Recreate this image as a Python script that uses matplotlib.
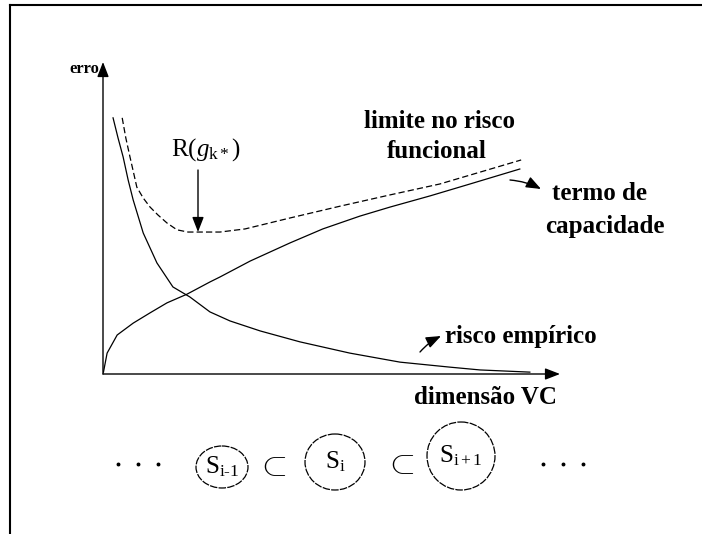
import matplotlib.pyplot as plt
from matplotlib.patches import Ellipse

# curves (x: dimensao VC, y: erro), arbitrary units 0..10
emp_x = [0.22, 0.33, 0.44, 0.55, 0.66, 0.88, 1.18, 1.53, 1.90, 2.34, 2.78, 3.44, 4.31, 5.40, 6.50, 7.59, 8.25, 9.34]
emp_y = [8.21, 7.56, 6.96, 6.22, 5.58, 4.52, 3.56, 2.79, 2.47, 1.99, 1.70, 1.38, 1.03, 0.67, 0.38, 0.22, 0.13, 0.06]

cap_x = [0.01, 0.09, 0.31, 0.66, 1.03, 1.40, 1.84, 2.34, 2.56, 3.22, 4.09, 4.81, 5.62, 6.28, 7.16, 8.03, 9.12]
cap_y = [0.06, 0.67, 1.25, 1.63, 1.96, 2.28, 2.56, 2.95, 3.11, 3.62, 4.20, 4.65, 5.06, 5.35, 5.71, 6.09, 6.57]

bound_x = [0.42, 0.50, 0.59, 0.68, 0.74, 0.88, 1.03, 1.20, 1.40, 1.62, 1.86, 2.12, 2.56, 3.11,
           4.09, 5.19, 6.28, 7.37, 8.25, 9.15]
bound_y = [8.21, 7.56, 6.96, 6.38, 5.99, 5.64, 5.35, 5.10, 4.84, 4.62, 4.55, 4.55, 4.55, 4.65,
           5.00, 5.38, 5.74, 6.09, 6.47, 6.86]

# nested structure S_{i-1} ⊂ S_i ⊂ S_{i+1}
set_labels = [r'$\mathrm{S_{i\text{-}1}}$', r'$\mathrm{S_i}$', r'$\mathrm{S_{i+1}}$']

W, H = 702, 534
fig = plt.figure(figsize=(W / 100, H / 100), dpi=100)
serif = 'Liberation Serif'
plt.rcParams['mathtext.fontset'] = 'custom'
plt.rcParams['mathtext.rm'] = serif
plt.rcParams['mathtext.it'] = serif + ':italic'

# background layer in pixel units for frame, labels and the bottom row
bg = fig.add_axes([0, 0, 1, 1])
bg.set_xlim(0, W)
bg.set_ylim(H, 0)
bg.axis('off')
bg.plot([10, W], [5, 5], color='black', lw=1.5)
bg.plot([10, 10], [5, H], color='black', lw=1.5)

# plot area
x0, y0, x1, y1 = 103, 374, 560, 62
ax = fig.add_axes([x0 / W, (H - y0) / H, (x1 - x0) / W, (y0 - y1) / H])
ax.set_xlim(0, 10)
ax.set_ylim(0, 10)
ax.axis('off')
ax.patch.set_alpha(0)

head = '-|>,head_length=0.9,head_width=0.35'
arrow = dict(arrowstyle=head, color='black', lw=1, shrinkA=0, shrinkB=0)
ax.annotate('', xy=(0, 1), xytext=(0, 0), xycoords='axes fraction', arrowprops=arrow)
ax.annotate('', xy=(1, 0), xytext=(0, 0), xycoords='axes fraction', arrowprops=arrow)

ax.plot(emp_x, emp_y, color='black', lw=0.9)
ax.plot(cap_x, cap_y, color='black', lw=0.9)
ax.plot(bound_x, bound_y, color='black', lw=0.9, linestyle=(0, (5, 2.5)))

lab = dict(family=serif, fontweight='bold', fontsize=18, color='black')
bg.text(84, 69, 'erro', ha='center', va='center', family=serif, fontweight='bold', fontsize=12)
bg.text(485, 397, 'dimensão VC', ha='center', va='center', **lab)
bg.text(440, 121, 'limite no risco', ha='center', va='center', **lab)
bg.text(437, 152, 'funcional', ha='center', va='center', **lab)
bg.text(600, 193, 'termo de', ha='center', va='center', **lab)
bg.text(605, 226, 'capacidade', ha='center', va='center', **lab)
bg.text(521, 336, 'risco empírico', ha='center', va='center', **lab)

bg.text(206, 150, r'$\mathrm{R(}g_{\mathrm{k}*}\mathrm{)}$', ha='center', va='center',
        fontsize=18, family=serif)
bg.annotate('', xy=(198, 232), xytext=(198, 170), arrowprops=arrow)
bg.annotate('', xy=(541, 189), xytext=(510, 180),
            arrowprops=dict(arrowstyle=head, color='black', lw=1, shrinkA=0, shrinkB=0,
                            connectionstyle='arc3,rad=-0.1'))
bg.annotate('', xy=(441, 336), xytext=(420, 352),
            arrowprops=dict(arrowstyle=head, color='black', lw=1, shrinkA=0, shrinkB=0,
                            connectionstyle='arc3,rad=-0.1'))

# bottom row
centers = [(222, 467), (335, 462), (461, 456)]
sizes = [(52, 42), (60, 56), (68, 68)]
for (cx, cy), (w, h), s in zip(centers, sizes, set_labels):
    bg.add_patch(Ellipse((cx, cy), w, h, fill=False, color='black', lw=0.9, linestyle=(0, (6, 1))))
    bg.text(cx, cy, s, ha='center', va='center', fontsize=18, family=serif)
bg.text(272, 466, r'$\subset$', ha='center', va='center', fontsize=24)
bg.text(400, 464, r'$\subset$', ha='center', va='center', fontsize=24)
for px in [118, 138, 158, 543, 563, 583]:
    bg.plot(px, 464, 'o', color='black', ms=1.8)

fig.savefig('out.png', dpi=100)
